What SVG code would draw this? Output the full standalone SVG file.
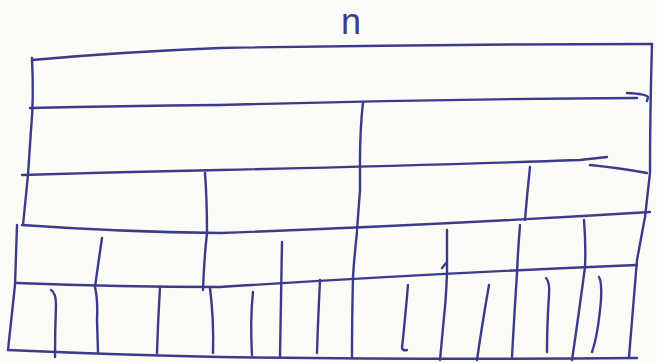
<svg xmlns="http://www.w3.org/2000/svg" width="657" height="363" viewBox="0 0 657 363">
<style>
.s{fill:none;stroke:#3b3b8c;stroke-width:2.4;stroke-linecap:round;stroke-linejoin:round}
.t{font-family:"Liberation Sans",Arial,sans-serif;font-size:36px;fill:#3b3b8c}
</style>
<rect width="657" height="363" fill="#fbfbf8"/>
<text class="t" x="351" y="34" text-anchor="middle">n</text>
<g id="levels">
<path class="s" d="M32,60 Q120,52 220,48 Q440,44 652,44"/>
<path class="s" d="M30,108 Q120,106 220,105 Q440,99 637,98"/>
<path class="s" d="M627,93 Q646,94 648,97 L647,101"/>
<path class="s" d="M22,175 Q120,172 220,170 Q440,165 580,160 L607,157"/>
<path class="s" d="M590,165 Q620,168 647,173"/>
<path class="s" d="M22,225 Q120,232 220,233 Q440,225 650,212"/>
<path class="s" d="M17,283 Q120,287 220,287 Q440,273 637,265"/>
<path class="s" d="M8,350 Q120,355 220,357 Q440,360 637,358"/>
</g>
<g id="sides">
<path class="s" d="M32,58 Q34,100 31,130 Q29,160 28,175 L23,225"/>
<path class="s" d="M17,225 L15,285 L8,350"/>
<path class="s" d="M652,44 Q650,110 650,173 L645,217 L637,260 L629,357"/>
</g>
<g id="splits">
<path class="s" d="M363,102 Q360,130 360,160 L360,190 L357,230"/>
<path class="s" d="M357,232 Q354,260 353,277 Q352,320 352,357"/>
<path class="s" d="M205,173 Q207,200 207,233 Q204,260 203,290"/>
<path class="s" d="M530,167 Q527,195 525,220"/>
<path class="s" d="M520,225 Q518,250 517,273 Q514,320 512,357"/>
<path class="s" d="M102,238 Q98,265 95,287 Q98,300 97,320 L98,352"/>
<path class="s" d="M282,242 Q281,300 280,357"/>
<path class="s" d="M447,230 Q447,255 447,273 Q446,300 444,317 L440,360"/>
<path class="s" d="M442,268 L447,262"/>
<path class="s" d="M584,220 Q586,245 585,267 Q578,320 572,360"/>
<path class="s" d="M51,290 Q56,293 56,305 Q55,330 55,357"/>
<path class="s" d="M160,287 Q158,320 157,353"/>
<path class="s" d="M210,288 Q214,320 213,353"/>
<path class="s" d="M253,292 Q250,320 252,355"/>
<path class="s" d="M320,280 Q318,320 317,353"/>
<path class="s" d="M408,285 Q405,320 402,348 Q403,351 407,350"/>
<path class="s" d="M489,285 Q482,325 477,360"/>
<path class="s" d="M546,278 Q550,282 549,295 Q547,325 547,352"/>
<path class="s" d="M599,277 Q602,282 601,300 Q598,335 592,352"/>
</g>
</svg>
